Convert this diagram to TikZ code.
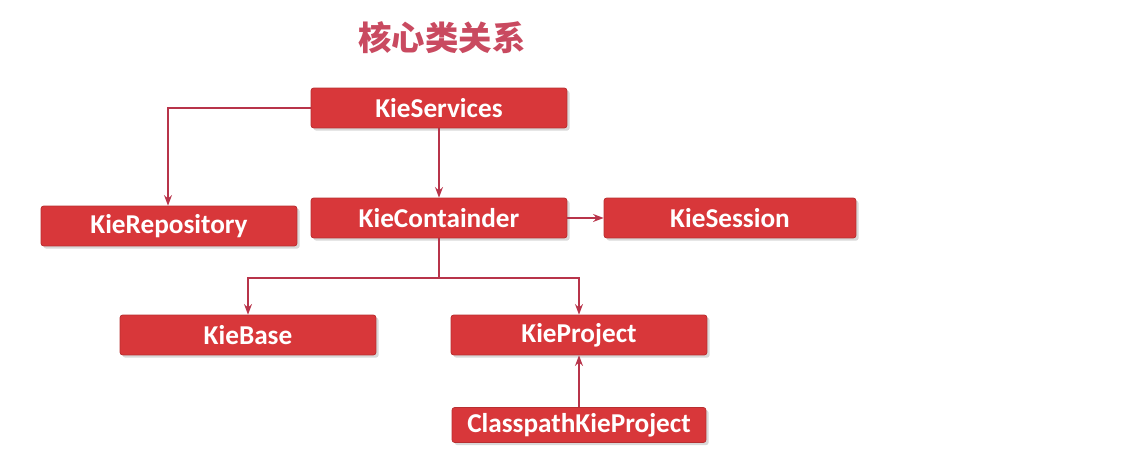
\documentclass[tikz,border=0pt]{standalone}
\usepackage{fontspec}
\setmainfont{Carlito}
\newfontfamily\cjk{Noto Sans CJK SC}
\usetikzlibrary{arrows.meta,shadows}
\definecolor{boxred}{HTML}{D8373A}
\definecolor{linered}{HTML}{B8344A}
\definecolor{titlered}{HTML}{C94A60}
\tikzset{
    kiebox/.style={draw=boxred!85!black, line width=.4pt, fill=boxred, rounded corners=1.5pt,
        text=white, font=\fontsize{15.5}{18}\selectfont\bfseries,
        minimum width=5.12cm, minimum height=.8cm, inner sep=0pt,
        drop shadow={opacity=.3, shadow xshift=1.5pt, shadow yshift=-1.5pt}},
    link/.style={draw=linered, line width=.9pt, -{Stealth[length=6pt,width=4.5pt]}}
}
\begin{document}
\begin{tikzpicture}[x=.02cm, y=-.02cm]
        \useasboundingbox (0, 0) rectangle (1127, 459);
        \node[text=titlered, font=\cjk\fontsize{19}{22}\selectfont\bfseries] (title) at (442, 38) {核心类关系};
        % boxes
        \node[kiebox] (services) at (439, 108) {KieServices};
        \node[kiebox] (repository) at (169, 226) {KieRepository};
        \node[kiebox] (container) at (439, 218) {KieContainder};
        \node[kiebox, minimum width=5.04cm] (session) at (730, 218) {KieSession};
        \node[kiebox] (base) at (248, 335) {KieBase};
        \node[kiebox] (project) at (579, 335) {KieProject};
        \node[kiebox, minimum width=5.08cm, minimum height=.7cm] (classpath) at (579, 425) {ClasspathKieProject};
        % links
        \coordinate (split) at (439, 278);
        \draw[link] (services.west) -| (repository.north -| 168, 0);
        \draw[link] (services) -- (container);
        \draw[link] (container) -- (session);
        \draw[draw=linered, line width=.9pt] (container.south) -- (split);
        \foreach \target in {base, project} {
                \draw[link] (split) -| (\target.north);
            }
        \draw[link] (classpath) -- (project);
    \end{tikzpicture}
\end{document}
